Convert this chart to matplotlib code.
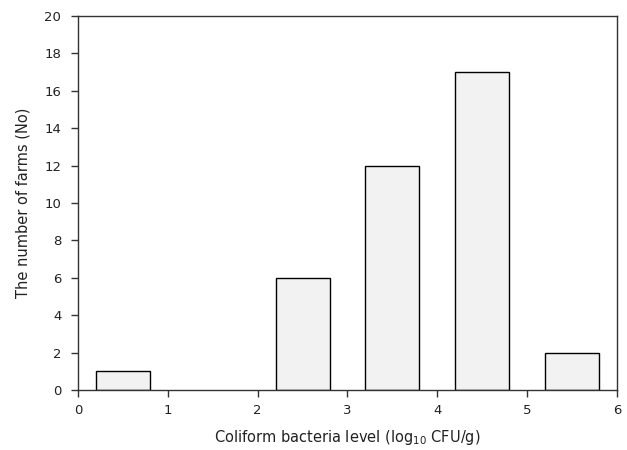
import matplotlib
matplotlib.use("Agg")
import matplotlib.pyplot as plt

# bar centres, counts
levels = [0.5, 2.5, 3.5, 4.5, 5.5]
farms = [1, 6, 12, 17, 2]

fig = plt.figure(figsize=(6.27, 4.5), dpi=100)
ax = fig.add_axes([0.1244, 0.1333, 0.8596, 0.8311])

ax.bar(levels, farms, width=0.6, color='#f2f2f2', edgecolor='black', linewidth=1.0)

ax.set_xlim(0, 6)
ax.set_ylim(0, 20)
ax.set_xticks(range(0, 7))
ax.set_yticks(range(0, 21, 2))
ax.tick_params(direction='out', length=5, width=1, labelsize=9.5, color='#333333', labelcolor='#222222')
ax.tick_params(axis='y', pad=7)
ax.tick_params(axis='x', pad=5)
for s in ax.spines.values():
    s.set_linewidth(1.0)
    s.set_color('#333333')

ax.set_xlabel('Coliform bacteria level (log$_{10}$ CFU/g)', fontsize=10.5, labelpad=8, color='#222222')
ax.set_ylabel('The number of farms (No)', fontsize=10.5, labelpad=10, color='#222222')

fig.savefig('out.png', dpi=100)
